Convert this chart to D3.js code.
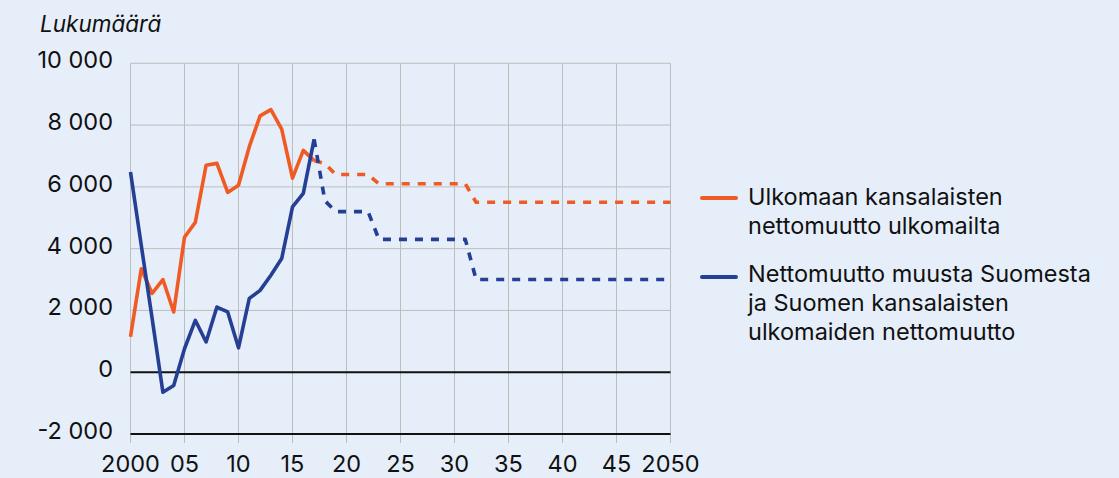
<!DOCTYPE html>
<html>
<head>
<meta charset="utf-8">
<script src="https://cdn.jsdelivr.net/npm/d3@7"></script>
<style>
  html, body { margin: 0; padding: 0; background: #e6eefa; }
  svg { display: block; font-family: Inter, "Noto Sans", sans-serif; }
</style>
</head>
<body>
<svg width="1119" height="478"></svg>
<script>
// History 2000-2017
const histYears = d3.range(2000, 2018);
const foreignHist = [1150, 3350, 2550, 3000, 1950, 4370, 4850, 6700, 6760, 5820, 6050, 7300, 8300, 8500, 7870, 6280, 7180, 6850];
const domesticHist = [6480, 4100, 1750, -650, -430, 760, 1680, 980, 2110, 1950, 790, 2390, 2650, 3140, 3680, 5350, 5790, 7540];

// Projection 2017-2050 (dashed)
const projYears = d3.range(2017, 2051);
const foreignProj = [6850, 6750, 6400, 6400, 6400, 6400, 6100, 6100, 6100, 6100, 6100, 6100, 6100, 6100, 6100,
  5500, 5500, 5500, 5500, 5500, 5500, 5500, 5500, 5500, 5500, 5500, 5500, 5500, 5500, 5500, 5500, 5500, 5500, 5500];
const domesticProj = [7540, 5550, 5200, 5200, 5200, 5200, 4300, 4300, 4300, 4300, 4300, 4300, 4300, 4300, 4300,
  3000, 3000, 3000, 3000, 3000, 3000, 3000, 3000, 3000, 3000, 3000, 3000, 3000, 3000, 3000, 3000, 3000, 3000, 3000];

const xTicks = [2000, 2005, 2010, 2015, 2020, 2025, 2030, 2035, 2040, 2045, 2050];
const xTickLabels = ["2000", "05", "10", "15", "20", "25", "30", "35", "40", "45", "2050"];
const yTicks = [-2000, 0, 2000, 4000, 6000, 8000, 10000];

const legendLabels = [
  ["Ulkomaan kansalaisten", "nettomuutto ulkomailta"],
  ["Nettomuutto muusta Suomesta", "ja Suomen kansalaisten", "ulkomaiden nettomuutto"]
];

const orange = "#f05a23", blue = "#243f94";
const svg = d3.select("svg");

const x = d3.scaleLinear().domain([2000, 2050]).range([130.5, 670.5]);
const y = d3.scaleLinear().domain([-2000, 10000]).range([434, 63.3]);

const fmt = d3.formatLocale({ decimal: ",", thousands: " ", grouping: [3], currency: ["", ""], minus: "-" }).format(",d");

// vertical gridlines (with tick below axis)
svg.append("g").selectAll("line")
  .data(xTicks).join("line")
  .attr("x1", d => x(d)).attr("x2", d => x(d))
  .attr("y1", y(10000)).attr("y2", y(-2000) + 9)
  .attr("stroke", "#bdbdbd").attr("stroke-width", 1);

// horizontal gridlines
svg.append("g").selectAll("line")
  .data(yTicks).join("line")
  .attr("x1", x(2000)).attr("x2", x(2050))
  .attr("y1", d => y(d)).attr("y2", d => y(d))
  .attr("stroke", d => (d <= 0 ? "#111" : "#bdbdbd"))
  .attr("stroke-width", d => (d <= 0 ? 2 : 1));

// y labels
svg.append("g").selectAll("text")
  .data(yTicks).join("text")
  .attr("x", 113).attr("y", d => y(d) + 5)
  .attr("text-anchor", "end")
  .attr("font-size", 23.5).attr("fill", "#111")
  .text(d => fmt(d));

// x labels
svg.append("g").selectAll("text")
  .data(xTicks).join("text")
  .attr("x", d => x(d)).attr("y", 472)
  .attr("text-anchor", "middle")
  .attr("font-size", 23.5).attr("fill", "#111")
  .text((d, i) => xTickLabels[i]);

svg.append("text")
  .attr("x", 40).attr("y", 32)
  .attr("font-size", 22.5).attr("font-style", "italic").attr("fill", "#111")
  .text("Lukumäärä");

const line = d3.line().x(d => x(d[0])).y(d => y(d[1]));

function drawSeries(years, values, color, dashed) {
  svg.append("path")
    .datum(years.map((yr, i) => [yr, values[i]]))
    .attr("d", line)
    .attr("fill", "none")
    .attr("stroke", color)
    .attr("stroke-width", 3.6)
    .attr("stroke-linejoin", "round")
    .attr("stroke-dasharray", dashed ? "8,8" : null);
}

drawSeries(projYears, foreignProj, orange, true);
drawSeries(projYears, domesticProj, blue, true);
drawSeries(histYears, foreignHist, orange, false);
drawSeries(histYears, domesticHist, blue, false);

// legend
const legendY = [198, 277];
const legendTextY = [205, 282];
const legendColors = [orange, blue];
legendLabels.forEach((lines, i) => {
  svg.append("line")
    .attr("x1", 702).attr("x2", 736)
    .attr("y1", legendY[i]).attr("y2", legendY[i])
    .attr("stroke", legendColors[i]).attr("stroke-width", 4)
    .attr("stroke-linecap", "round");
  const t = svg.append("text")
    .attr("x", 748).attr("y", legendTextY[i])
    .attr("font-size", 23.5).attr("fill", "#111");
  lines.forEach((s, j) => {
    t.append("tspan").attr("x", 748).attr("dy", j === 0 ? 0 : 29).text(s);
  });
});
</script>
</body>
</html>
